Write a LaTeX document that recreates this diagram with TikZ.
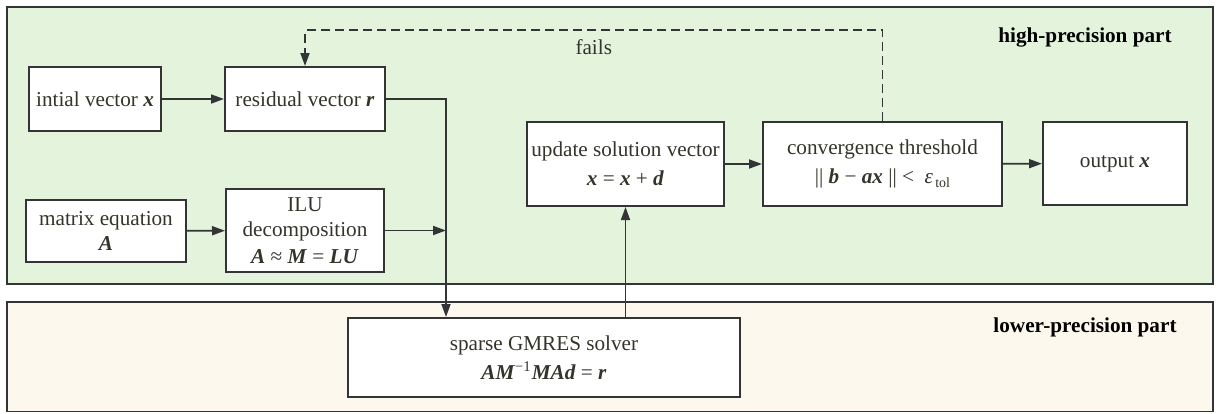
\documentclass[tikz,border=0pt]{standalone}
\usepackage{fontspec}
\setmainfont{Liberation Serif}
\definecolor{hiprec}{RGB}{228, 244, 220}
\definecolor{loprec}{RGB}{253, 248, 237}
\definecolor{linegray}{RGB}{50, 52, 54}
\definecolor{textgray}{RGB}{52, 52, 42}
\usetikzlibrary{arrows.meta, positioning, calc}
\newcommand{\bv}[1]{\textbf{\textit{#1}}}

\begin{document}
\begin{tikzpicture}[x=0.5pt, y=-0.5pt,
  font=\fontsize{10.6}{12.6}\selectfont, text=textgray,
  box/.style={draw=linegray, fill=white, line width=1pt, align=center, inner sep=2pt},
  arr/.style={-{Triangle[length=6.5pt, width=4.5pt]}, draw=linegray, line width=0.9pt},
  part/.style={font=\fontsize{10.6}{12.6}\selectfont\bfseries, text=black}]
  \useasboundingbox (0,0) rectangle (1221,413);

  % the two precision panels
  \draw[fill=hiprec, draw=linegray, line width=0.8pt] (7,7) rectangle (1213,284);
  \draw[fill=loprec, draw=linegray, line width=0.8pt] (7,302) rectangle (1213,411.5);
  \node[part] (hilabel) at (1085,37) {high-precision part};
  \node[part] (lolabel) at (1085,327) {lower-precision part};

  % high-precision boxes
  \node[box, minimum width=66pt, minimum height=32pt] (init) at (95,99) {intial vector \bv{x}};
  \node[box, minimum width=80pt, minimum height=32pt] (resid) at (305,99) {residual vector \bv{r}};
  \node[box, minimum width=80pt, minimum height=31pt] (mateq) at (106,231) {matrix equation\\\bv{A}};
  \node[box, minimum width=79pt, minimum height=41.5pt] (ilu) at (305,230.5) {ILU\\decomposition\\[1pt]\bv{A} ≈ \bv{M} = \bv{LU}};
  \node[box, minimum width=97.5pt, minimum height=42pt] (update) at (625.5,164) {update solution vector\\[2pt]\bv{x} = \bv{x} + \bv{d}};
  \node[box, minimum width=119.5pt, minimum height=42pt] (conv) at (882.5,164) {convergence threshold\\[2pt]|| \bv{b} − \bv{ax} || <\enspace\textit{ε}\raisebox{-0.4ex}{\fontsize{7}{8}\selectfont\,tol}};
  \node[box, minimum width=72pt, minimum height=41.5pt] (out) at (1115,163.5) {output \bv{x}};

  % lower-precision box
  \node[box, minimum width=196pt, minimum height=39.5pt] (gmres) at (544,357.5) {sparse GMRES solver\\[2pt]\bv{AM}\textsuperscript{−1}\bv{MAd} = \bv{r}};

  % connectors
  \coordinate (join) at (446,230.5);
  \draw[arr] (init) -- (resid);
  \draw[arr] (mateq) -- (ilu);
  \draw[arr] (ilu) -- (join);
  \draw[arr] (resid.east) -| (join |- gmres.north);
  \draw[arr] (update.south |- gmres.north) -- (update.south);
  \draw[arr] (update) -- (conv);
  \draw[arr] (conv) -- (out);
  \draw[arr, dash pattern=on 4.5pt off 2.5pt] (conv.north) -- ++(0,-91)
    -| node[pos=0.25, below=1pt] (failtxt) {fails} (resid.north);
\end{tikzpicture}
\end{document}
